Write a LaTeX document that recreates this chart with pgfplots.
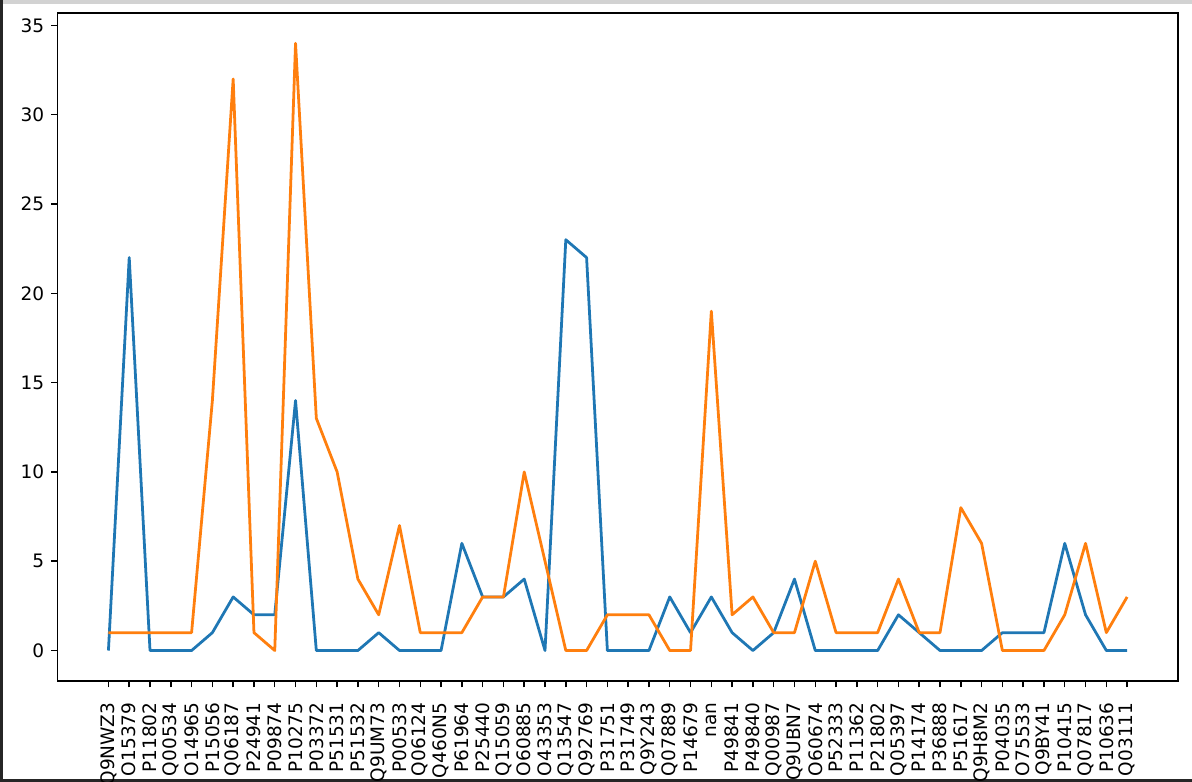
\documentclass[border=0pt]{standalone}
\usepackage{pgfplots}
\pgfplotsset{compat=1.18}
\usepackage{pgfplotstable}
\usepackage{fontspec}
\setmainfont{DejaVu Sans}
\definecolor{mplblue}{HTML}{1F77B4}
\definecolor{mplorange}{HTML}{FF7F0E}
\pgfplotstableread{
x a b
0 0 1
1 22 1
2 0 1
3 0 1
4 0 1
5 1 14
6 3 32
7 2 1
8 2 0
9 14 34
10 0 13
11 0 10
12 0 4
13 1 2
14 0 7
15 0 1
16 0 1
17 6 1
18 3 3
19 3 3
20 4 10
21 0 5
22 23 0
23 22 0
24 0 2
25 0 2
26 0 2
27 3 0
28 1 0
29 3 19
30 1 2
31 0 3
32 1 1
33 4 1
34 0 5
35 0 1
36 0 1
37 0 1
38 2 4
39 1 1
40 0 1
41 0 8
42 0 6
43 1 0
44 1 0
45 1 0
46 6 2
47 2 6
48 0 1
49 0 3
}\datatable
\begin{document}
\begin{tikzpicture}
\useasboundingbox (0,0) rectangle (643.68pt,422.28pt);
\fill[gray!35] (0,420.1pt) rectangle (643.68pt,422.28pt);
\fill[black!85] (0,0) rectangle (1.6pt,422.28pt);
\fill[black!85] (0,0) rectangle (643.68pt,1.4pt);
\begin{axis}[
  at={(31.05pt,54.6pt)}, anchor=south west,
  scale only axis, width=605.1pt, height=360.7pt,
  xmin=-2.45, xmax=51.45, ymin=-1.7, ymax=35.7,
  xtick={0,...,49},
  xticklabels={Q9NWZ3,O15379,P11802,Q00534,O14965,P15056,Q06187,P24941,P09874,P10275,P03372,P51531,P51532,Q9UM73,P00533,Q06124,Q460N5,P61964,P25440,Q15059,O60885,O43353,Q13547,Q92769,P31751,P31749,Q9Y243,Q07889,P14679,nan,P49841,P49840,Q00987,Q9UBN7,O60674,P52333,P11362,P21802,Q05397,P14174,P36888,P51617,Q9H8M2,P04035,O75533,Q9BY41,P10415,Q07817,P10636,Q03111},
  ytick={0,5,10,15,20,25,30,35},
  x tick label style={rotate=90, anchor=east, font=\fontsize{10pt}{12pt}\selectfont},
  y tick label style={font=\fontsize{10pt}{12pt}\selectfont},
  /pgf/number format/assume math mode=true,
  tick align=outside, tick pos=left,
  major tick length=3.5pt,
  every tick/.style={black, line width=0.8pt},
  axis line style={line width=0.8pt},
  xticklabel shift=4.5pt, yticklabel shift=0pt,
  tick label style={inner sep=3.5pt},
]
\addplot[mplblue, line width=1.5pt, line join=round] table[x=x,y=a]{\datatable};
\addplot[mplorange, line width=1.5pt, line join=round] table[x=x,y=b]{\datatable};
\end{axis}
\end{tikzpicture}
\end{document}
